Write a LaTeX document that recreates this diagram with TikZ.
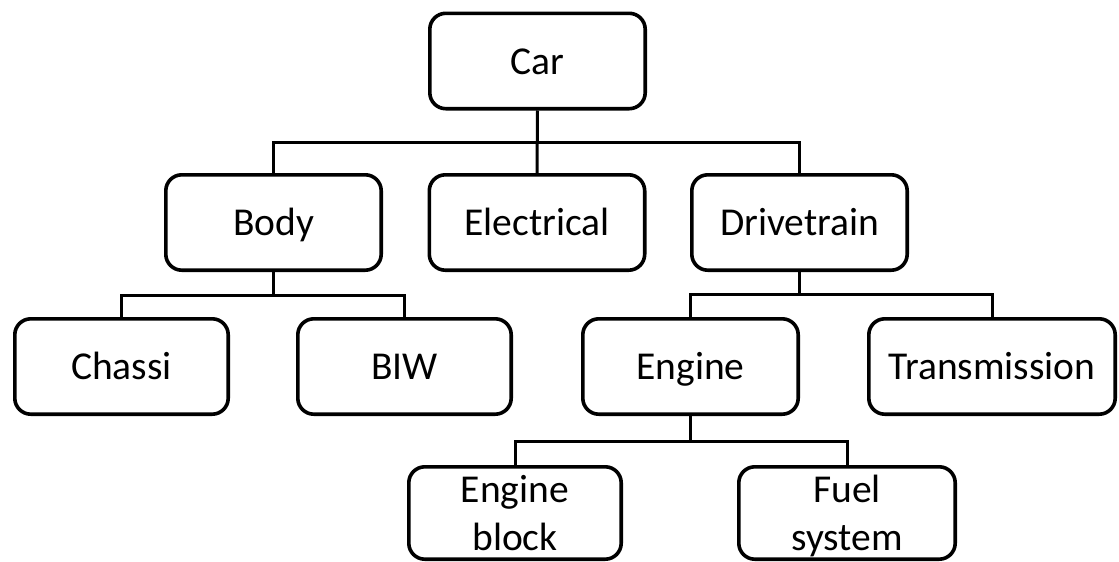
\documentclass[tikz,border=0pt]{standalone}
\usepackage{fontspec}
\setmainfont{Carlito}
\begin{document}
\begin{tikzpicture}[x=1pt,y=-1pt,
  part/.style={draw=black, line width=3.6pt, rounded corners=16pt,
    minimum width=215.4pt, minimum height=95.4pt, inner sep=0pt,
    align=center, font=\fontsize{39.5}{48}\selectfont},
  single/.style={text height=26pt, text depth=0pt},
  conn/.style={draw=black, line width=3pt}]
\useasboundingbox (0,0) rectangle (1119,562);

% top level
\node[part,single] (car) at (537.5,61) {Car};

% second level
\node[part,single] (body)  at (273.5,222.5) {Body};
\node[part,single] (elec)  at (537,222.5)   {Electrical};
\node[part,single] (drive) at (799.5,222.5) {Drivetrain};

% third level
\node[part,single,minimum width=213.4pt] (chassi) at (121.5,366.5) {Chassi};
\node[part,single,minimum width=213.4pt] (biw)    at (404.5,366.5) {BIW};
\node[part,single] (engine) at (690.5,366.5) {Engine};
\node[part,single,minimum width=246.4pt] (trans) at (992,366.5) {Transmission};

% fourth level
\node[part,minimum height=92.4pt,minimum width=212.4pt] (eblock) at (515,513)
  {Engine\vphantom{l}\\\smash{block}};
\node[part,minimum height=92.4pt,minimum width=216.4pt] (fuel) at (847,513)
  {Fuel\\\smash{system}};

% connectors
\draw[conn] (car.south) -- (elec.north);
\draw[conn] (car.south) -- ++(0,32) -| (body.north);
\draw[conn] (car.south) -- ++(0,32) -| (drive.north);
\draw[conn] (body.south) -- ++(0,23) -| (chassi.north);
\draw[conn] (body.south) -- ++(0,23) -| (biw.north);
\draw[conn] (drive.south) -- ++(0,22) -| (engine.north);
\draw[conn] (drive.south) -- ++(0,22) -| (trans.north);
\draw[conn] (engine.south) -- ++(0,25) -| (eblock.north);
\draw[conn] (engine.south) -- ++(0,25) -| (fuel.north);
\end{tikzpicture}
\end{document}
